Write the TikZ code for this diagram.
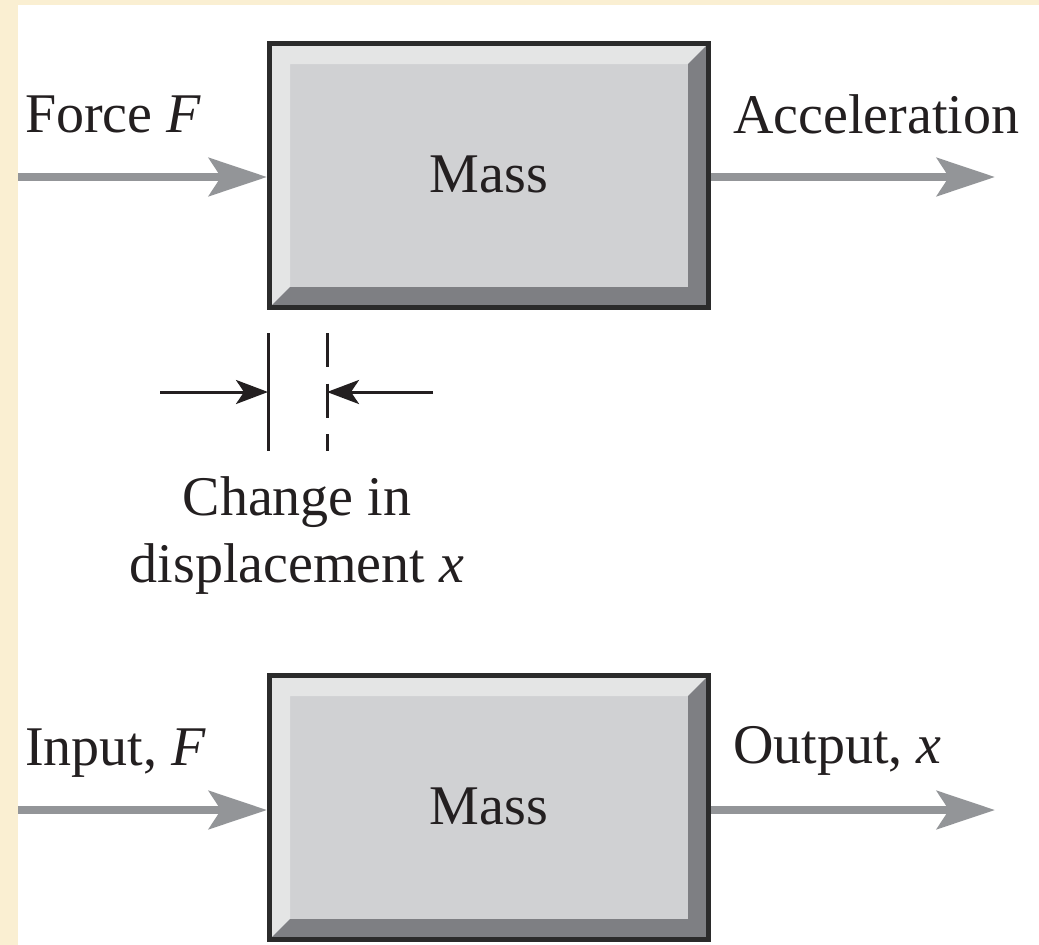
\documentclass[tikz,border=0pt]{standalone}
\usepackage{fontspec}
\setmainfont{Liberation Serif}
\usetikzlibrary{arrows.meta,calc}

\definecolor{cream}{HTML}{FAEFD2}
\definecolor{boxedge}{HTML}{2B2B2B}
\definecolor{boxface}{HTML}{D0D1D3}
\definecolor{bevlight}{HTML}{E4E5E5}
\definecolor{bevdark}{HTML}{7E7F83}
\definecolor{flowgray}{HTML}{939598}
\definecolor{inkdark}{HTML}{231F20}

\newcommand\lblfont{\fontsize{56}{67}\selectfont}

\tikzset{
  bevelled/.style={
    path picture={
      \coordinate (pNW) at (path picture bounding box.north west);
      \coordinate (pNE) at (path picture bounding box.north east);
      \coordinate (pSW) at (path picture bounding box.south west);
      \coordinate (pSE) at (path picture bounding box.south east);
      \fill[bevlight] (pNW) -- (pNE) -- ($(pNE)+(-20.5pt,-20.5pt)$)
        -- ($(pNW)+(20.5pt,-20.5pt)$) -- ($(pSW)+(20.5pt,20.5pt)$)
        -- (pSW) -- cycle;
      \fill[bevdark] (pNE) -- (pSE) -- (pSW) -- ($(pSW)+(20.5pt,20.5pt)$)
        -- ($(pSE)+(-20.5pt,20.5pt)$) -- ($(pNE)+(-20.5pt,-20.5pt)$) -- cycle;
    }
  },
  massbox/.style={
    draw=boxedge, line width=5pt, fill=boxface, bevelled,
    minimum width=439pt, minimum height=264pt, inner sep=0pt,
    font=\lblfont, text=inkdark
  },
  flow/.style={
    draw=flowgray, line width=8.7pt,
    -{Stealth[length=58pt,width=38pt,inset=12pt]}
  },
  dimarrow/.style={
    draw=inkdark, line width=3pt,
    -{Stealth[length=32pt,width=24pt,inset=8pt]}
  },
  dimline/.style={draw=inkdark, line width=3pt},
  lbl/.style={font=\lblfont, text=inkdark, inner sep=0pt, anchor=base west}
}

\begin{document}
\begin{tikzpicture}[x=1pt, y=-1pt]
  \useasboundingbox (0,0) rectangle (1039,945);
  % page background with cream margins on the top and left
  \fill[white] (0,0) rectangle (1039,945);
  \fill[cream] (0,0) rectangle (18,945);
  \fill[cream] (0,0) rectangle (1039,5);

  % ---- upper block: force -> mass -> acceleration
  \coordinate (in1) at (18,177);
  \coordinate (out1) at (995,177);
  \draw[flow] (in1) -- (in1 -| 267,0);
  \node[massbox] (m1) at (489,175.5) {\raisebox{3pt}{Mass}};
  \draw[flow] (out1 -| m1.east) -- (out1);
  \node[lbl] (fF) at (25,132) {Force \textit{F}};
  \node[lbl] (acc) at (733,133) {Acceleration};

  % ---- change in displacement marker
  \coordinate (s1) at (268,333);
  \coordinate (s2) at (268,451);
  \coordinate (d1) at (327,333);
  \coordinate (d2) at (327,451);
  \coordinate (l0) at (160,392);
  \coordinate (r0) at (433,392);
  \draw[dimline] (s1) -- (s2);
  \draw[dimline, dash pattern=on 34pt off 16.5pt] (d1) -- (d2);
  \draw[dimarrow] (l0) -- (l0 -| s1);
  \draw[dimarrow] (r0) -- (r0 -| d1);
  \node[font=\lblfont, text=inkdark, inner sep=0pt, align=center, anchor=base]
    (chg) at (297,582) {Change in\\displacement \textit{x}};

  % ---- lower block: input -> mass -> output
  \coordinate (in2) at (18,810);
  \coordinate (out2) at (995,810);
  \draw[flow] (in2) -- (in2 -| 267,0);
  \node[massbox] (m2) at (489,807.5) {\raisebox{3pt}{Mass}};
  \draw[flow] (out2 -| m2.east) -- (out2);
  \node[lbl] (inp) at (25,765) {Input, \textit{F}};
  \node[lbl] (outp) at (733,763) {Output, \textit{x}};
\end{tikzpicture}
\end{document}
